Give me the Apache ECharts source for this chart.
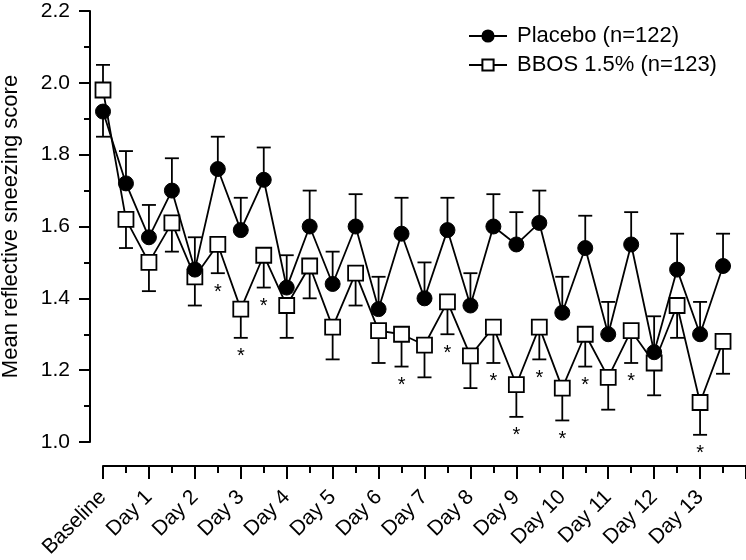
<!DOCTYPE html>
<html>
<head>
<meta charset="utf-8">
<script src="https://cdn.jsdelivr.net/npm/echarts@6/dist/echarts.min.js"></script>
<style>html,body{margin:0;padding:0;background:#fff}#c{width:746px;height:560px}</style>
</head>
<body>
<div id="c"></div>
<script>
var dayLabels = ['Baseline','Day 1','Day 2','Day 3','Day 4','Day 5','Day 6','Day 7','Day 8','Day 9','Day 10','Day 11','Day 12','Day 13'];
var placebo    = [1.92,1.72,1.57,1.70,1.48,1.76,1.59,1.73,1.43,1.60,1.44,1.60,1.37,1.58,1.40,1.59,1.38,1.60,1.55,1.61,1.36,1.54,1.30,1.55,1.25,1.48,1.30,1.49];
var placeboErr = [1.85,1.81,1.66,1.79,1.57,1.85,1.68,1.82,1.52,1.70,1.53,1.69,1.46,1.68,1.50,1.68,1.47,1.69,1.64,1.70,1.46,1.63,1.39,1.64,1.35,1.58,1.39,1.58];
var bbos       = [1.98,1.62,1.50,1.61,1.46,1.55,1.37,1.52,1.38,1.49,1.32,1.47,1.31,1.30,1.27,1.39,1.24,1.32,1.16,1.32,1.15,1.30,1.18,1.31,1.22,1.38,1.11,1.28];
var bbosErr    = [2.05,1.54,1.42,1.53,1.38,1.47,1.29,1.43,1.29,1.40,1.23,1.38,1.22,1.21,1.18,1.30,1.15,1.22,1.07,1.23,1.06,1.21,1.09,1.22,1.13,1.29,1.02,1.19];
var starIdx    = [5,6,7,13,15,17,18,19,20,21,23,26];

var FONT = 'Liberation Sans, Arial, sans-serif';
function pts(arr){ return arr.map(function(v,i){ return [i,v]; }); }
function errData(vals, ends){ return vals.map(function(v,i){ return [i,v,ends[i]]; }); }

function errRender(params, api){
  var p0 = api.coord([api.value(0), api.value(1)]);
  var p1 = api.coord([api.value(0), api.value(2)]);
  var st = {stroke:'#000', lineWidth:1.8};
  return {type:'group', children:[
    {type:'line', shape:{x1:p0[0],y1:p0[1],x2:p1[0],y2:p1[1]}, style:st},
    {type:'line', shape:{x1:p1[0]-7,y1:p1[1],x2:p1[0]+7,y2:p1[1]}, style:st}
  ]};
}
function starRender(params, api){
  var p = api.coord([api.value(0), api.value(1)]);
  return {type:'text', x:p[0], y:p[1]+19, style:{text:'*', fontSize:20, fontFamily:FONT, fill:'#000', align:'center', verticalAlign:'middle'}};
}

var chart = echarts.init(document.getElementById('c'));
chart.setOption({
  animation:false,
  backgroundColor:'#fff',
  textStyle:{fontFamily:FONT, color:'#000'},
  grid:{left:103, right:0, top:11, bottom:118, containLabel:false, outerBoundsMode:'none'},
  legend:{
    data:['Placebo (n=122)','BBOS 1.5% (n=123)'],
    orient:'vertical', left:463, top:20, itemWidth:38, itemHeight:14, itemGap:7,
    textStyle:{fontSize:22, fontFamily:FONT, color:'#000', lineHeight:20, padding:[0,0,0,5]}
  },
  xAxis:{
    type:'value', min:0, max:28, interval:2, offset:24,
    axisLine:{show:true, onZero:false, lineStyle:{color:'#000', width:2}},
    axisTick:{show:true, length:13, lineStyle:{color:'#000', width:2}},
    minorTick:{show:true, splitNumber:2, length:7, lineStyle:{color:'#000', width:2}},
    splitLine:{show:false}, minorSplitLine:{show:false},
    axisLabel:{rotate:45, margin:28, fontSize:21, fontFamily:FONT, color:'#000',
      formatter:function(v){ return dayLabels[v/2] || ''; }}
  },
  yAxis:{
    type:'value', min:1.0, max:2.2, interval:0.2, offset:13,
    name:'Mean reflective sneezing score', nameLocation:'middle', nameGap:68,
    nameTextStyle:{fontSize:22, fontFamily:FONT, color:'#000'},
    axisLine:{show:true, onZero:false, lineStyle:{color:'#000', width:2}},
    axisTick:{show:true, length:11, lineStyle:{color:'#000', width:2}},
    minorTick:{show:true, splitNumber:2, length:6, lineStyle:{color:'#000', width:2}},
    splitLine:{show:false}, minorSplitLine:{show:false},
    axisLabel:{margin:20, fontSize:21, fontFamily:FONT, color:'#000',
      formatter:function(v){ return v.toFixed(1); }}
  },
  series:[
    {type:'custom', name:'bbosErr', data:errData(bbos,bbosErr), renderItem:errRender, z:1, silent:true},
    {type:'custom', name:'placeboErr', data:errData(placebo,placeboErr), renderItem:errRender, z:1, silent:true},
    {type:'line', name:'BBOS 1.5% (n=123)', data:pts(bbos), symbol:'rect', symbolSize:15, z:3,
      itemStyle:{color:'#fff', borderColor:'#000', borderWidth:1.8},
      lineStyle:{color:'#000', width:1.8}},
    {type:'line', name:'Placebo (n=122)', data:pts(placebo), symbol:'circle', symbolSize:15, z:4,
      itemStyle:{color:'#000', borderColor:'#000', borderWidth:1},
      lineStyle:{color:'#000', width:1.8}},
    {type:'custom', name:'stars', data:starIdx.map(function(i){ return [i, bbosErr[i]]; }), renderItem:starRender, z:5, silent:true, clip:false}
  ]
});
</script>
</body>
</html>
